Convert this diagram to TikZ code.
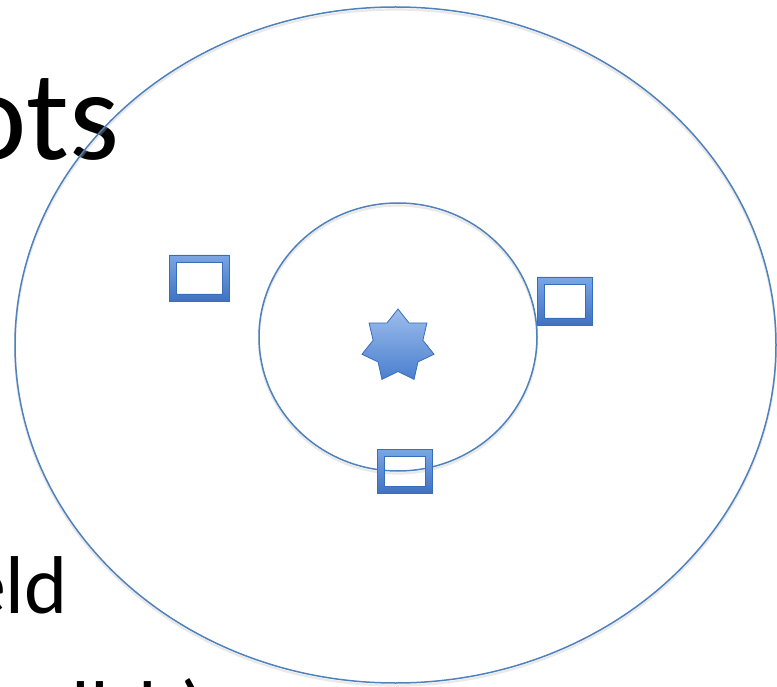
\documentclass[tikz,border=0pt]{standalone}
\usepackage{fontspec}
\setmainfont{Carlito}
\usetikzlibrary{shapes.geometric}
\definecolor{ringblue}{HTML}{4F81BD}
\definecolor{frametop}{HTML}{7AA6E6}
\definecolor{framebot}{HTML}{3F72C2}
\definecolor{frameedge}{HTML}{3A6DB8}
\definecolor{startop}{HTML}{9DBEEC}
\definecolor{starbot}{HTML}{4A7FCF}
\tikzset{
  ring/.style={draw=ringblue, line width=1.5pt},
  ringshadow/.style={draw=black!25, line width=2.2pt, opacity=0.35},
  frame/.style={inner sep=0pt, outer sep=0pt, draw=frameedge, line width=0.6pt,
    path picture={
      \shade[top color=frametop, bottom color=framebot, even odd rule]
        (path picture bounding box.south west) rectangle (path picture bounding box.north east)
        ([shift={(7pt,7pt)}]path picture bounding box.south west) rectangle ([shift={(-7pt,-7pt)}]path picture bounding box.north east);
      \draw[frameedge, line width=0.6pt]
        ([shift={(7pt,7pt)}]path picture bounding box.south west) rectangle ([shift={(-7pt,-7pt)}]path picture bounding box.north east);
    }},
  sparkle/.style={star, star points=7, star point ratio=1.45, minimum size=74pt, inner sep=0pt,
    top color=startop, bottom color=starbot, draw=frameedge, line width=0.8pt},
  bigtext/.style={font=\fontsize{128}{150}\selectfont, inner sep=0pt, anchor=base east},
  bodytext/.style={font=\fontsize{82}{100}\selectfont, inner sep=0pt, anchor=base west}
}
\begin{document}
\begin{tikzpicture}[x=1pt, y=-1pt]
\useasboundingbox (0,0) rectangle (777,687);
\begin{scope}
\clip (0,0) rectangle (777,687);
\node[bigtext] (title) at (120,160) {ots};
\node[bodytext, anchor=base east] (body1) at (68,613) {eld};
\node[bodytext] (body2) at (71.5,738) {ll\hspace{0.36em}b)};
\end{scope}
% rings
\draw[ringshadow] (395.5,347.5) ellipse [x radius=380.5pt, y radius=338pt];
\draw[ring] (395.5,345) ellipse [x radius=380.5pt, y radius=338pt];
\draw[ringshadow] (398,339.5) ellipse [x radius=139pt, y radius=134pt];
\draw[ring] (398,337) ellipse [x radius=139pt, y radius=134pt];
% star
\node[sparkle] (core) at (398,346) {};
% frames
\node[frame, minimum width=60pt, minimum height=46pt] (s1) at (199,278) {};
\node[frame, minimum width=55pt, minimum height=48pt] (s2) at (564.5,301) {};
\node[frame, minimum width=55pt, minimum height=44pt] (s3) at (404.5,471) {};
\end{tikzpicture}
\end{document}
